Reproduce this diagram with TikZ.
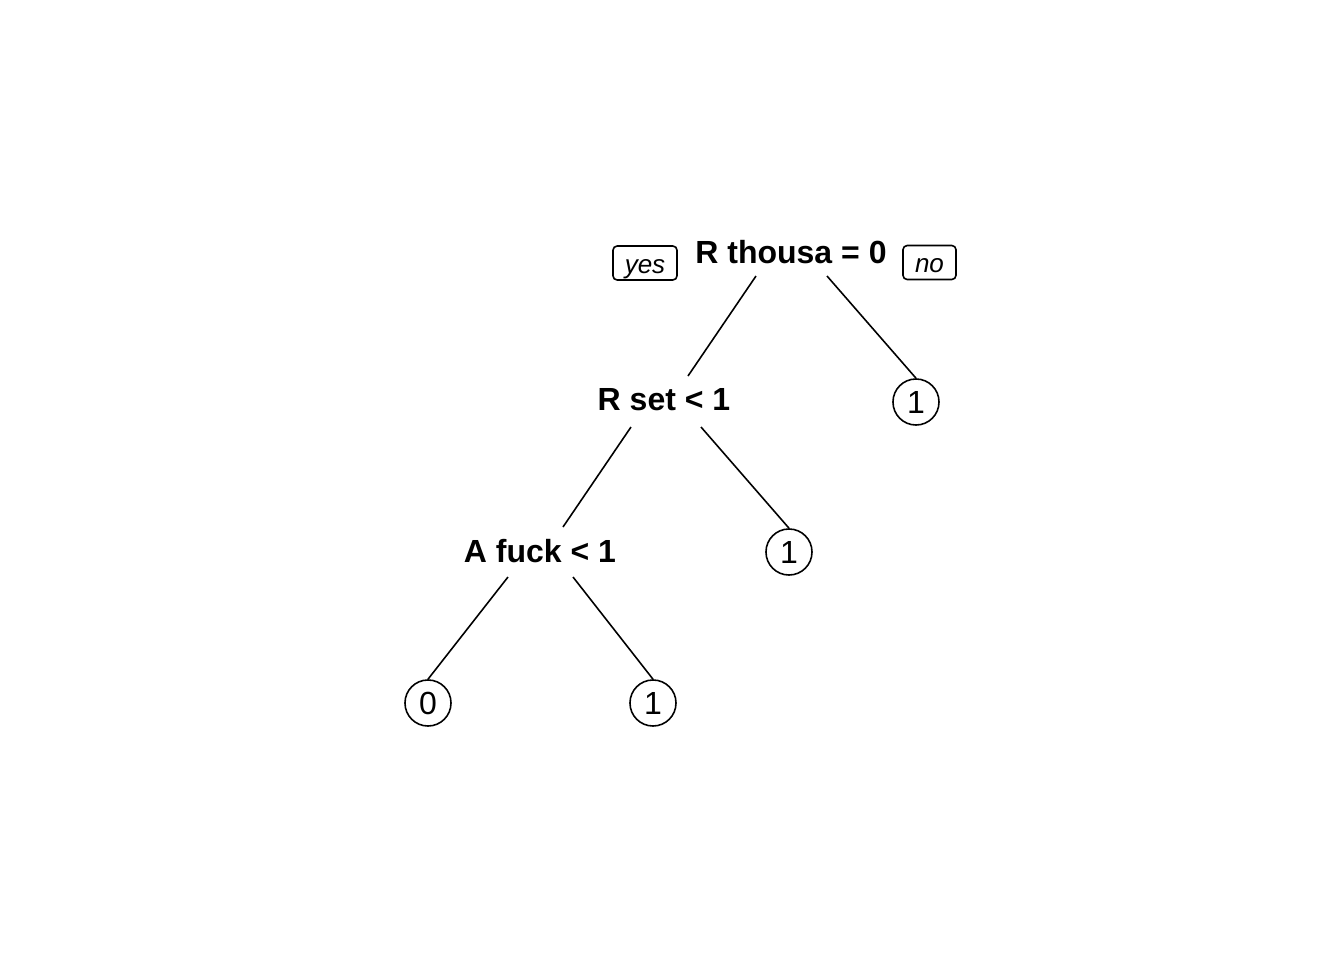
\documentclass[tikz,border=0pt]{standalone}
\usepackage{fontspec}
\setmainfont{Liberation Sans}
\begin{document}
\begin{tikzpicture}[x=0.01cm,y=-0.01cm,
  split/.style={inner sep=0pt,font=\fontsize{9.1pt}{11pt}\selectfont\bfseries},
  leaf/.style={circle,draw,line width=0.45pt,minimum size=0.46cm,inner sep=0pt,font=\fontsize{9.1pt}{11pt}\selectfont},
  tag/.style={draw,rounded corners=1.2pt,line width=0.45pt,minimum width=0.64cm,minimum height=0.34cm,inner sep=0pt,text height=1.2ex,text depth=0.1ex,font=\fontsize{7.4pt}{8pt}\selectfont\itshape},
  edge/.style={line width=0.45pt}]
\useasboundingbox (0,0) rectangle (1344,960);
\node[split] (root) at (791,252) {R thousa = 0};
\node[tag] (yes) at (645,263) {yes};
\node[tag,minimum width=0.53cm] (no) at (929.5,262.5) {no};
\node[split] (rset) at (664,400) {R set < 1};
\node[leaf] (l1) at (916,402) {1};
\node[split] (afuck) at (540,551) {A fuck < 1};
\node[leaf] (l2) at (789,552) {1};
\node[leaf] (l3) at (428,703) {0};
\node[leaf] (l4) at (653,703) {1};
\coordinate (rootL) at (756,276);
\coordinate (rootR) at (827,276);
\coordinate (rsetT) at (688,376);
\coordinate (rsetL) at (631,427);
\coordinate (rsetR) at (701,427);
\coordinate (afuckT) at (563,527);
\coordinate (afuckL) at (508,577);
\coordinate (afuckR) at (573,577);
\draw[edge] (rootL) -- (rsetT);
\draw[edge] (rootR) -- (l1.north);
\draw[edge] (rsetL) -- (afuckT);
\draw[edge] (rsetR) -- (l2.north);
\draw[edge] (afuckL) -- (l3.north);
\draw[edge] (afuckR) -- (l4.north);
\end{tikzpicture}
\end{document}
